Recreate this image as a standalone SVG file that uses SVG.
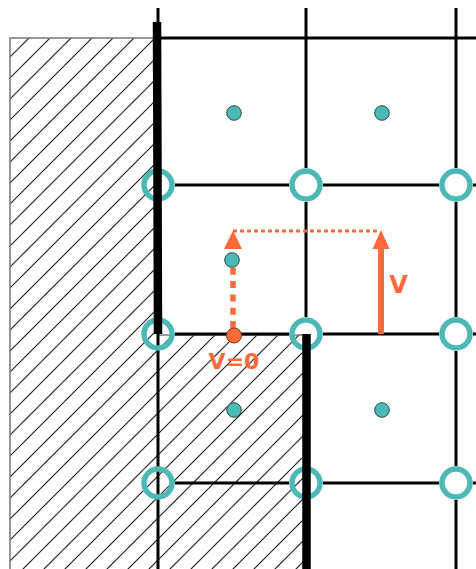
<svg xmlns="http://www.w3.org/2000/svg" width="476" height="569" viewBox="0 0 476 569">
<style>
.grid{stroke:#000;stroke-width:3;fill:none}
.wall{stroke:#000;stroke-width:8.5;fill:none}
.ring{fill:none;stroke:#4CB9B7;stroke-width:5.5}
.dot{fill:#4CB9B7;stroke:#2a4a4a;stroke-width:1}
.or{fill:#FF6A3A}
.lbl{font-family:"DejaVu Sans",Verdana,sans-serif;font-weight:bold;fill:#FF6A3A;text-anchor:middle}
</style>
<defs>
<pattern id="hatch" patternUnits="userSpaceOnUse" x="0" y="0" width="21" height="21">
<path d="M-1,5 L5,-1 M-1,26 L26,-1" stroke="#222" stroke-width="1.2" fill="none"/>
</pattern>
</defs>
<rect width="476" height="569" fill="#fff"/>
<g id="solid-region">
<path d="M10,569 V38 H158 V335 H305 V569" fill="url(#hatch)" stroke="#777" stroke-width="1.5"/>
</g>
<g id="grid">
<line class="grid" x1="158" y1="8" x2="158" y2="569"/>
<line class="grid" x1="160" y1="38" x2="476" y2="38"/>
<path class="grid" d="M306,8 V168 M306,202 V317 M306,351 V466 M306,500 V569"/>
<path class="grid" d="M456,8 V168 M456,202 V317 M456,351 V466 M456,500 V569"/>
<path class="grid" d="M175,185 H289 M323,185 H439 M473,185 H476"/>
<path class="grid" d="M175,334 H289 M323,334 H439 M473,334 H476"/>
<path class="grid" d="M175,483 H289 M323,483 H439 M473,483 H476"/>
</g>
<g id="nodes">
<circle class="ring" cx="158" cy="185" r="14"/>
<circle class="ring" cx="306" cy="185" r="14"/>
<circle class="ring" cx="456" cy="185" r="14"/>
<circle class="ring" cx="158" cy="334" r="14"/>
<circle class="ring" cx="306" cy="334" r="14"/>
<circle class="ring" cx="456" cy="334" r="14"/>
<circle class="ring" cx="158" cy="483" r="14"/>
<circle class="ring" cx="306" cy="483" r="14"/>
<circle class="ring" cx="456" cy="483" r="14"/>
</g>
<g id="walls">
<line class="wall" x1="157" y1="22" x2="158" y2="334"/>
<line class="wall" x1="306.5" y1="334" x2="306.5" y2="569"/>
</g>
<g id="connectors">
<line x1="233" y1="328" x2="233" y2="249" stroke="#FF6A3A" stroke-width="5.5" stroke-dasharray="7 6.3"/>
<polygon class="or" points="233,230.5 224,249 242,249"/>
<line x1="233" y1="231" x2="380" y2="231" stroke="#FF6A3A" stroke-width="3" stroke-dasharray="4 3"/>
<line x1="381" y1="334" x2="381" y2="247" stroke="#FF6A3A" stroke-width="6"/>
<polygon class="or" points="381,230 372.5,249 389.5,249"/>
</g>
<g id="cells">
<circle class="dot" cx="234" cy="113" r="7.3"/>
<circle class="dot" cx="382" cy="113" r="7.3"/>
<circle class="dot" cx="232" cy="260" r="7.3"/>
<circle class="dot" cx="234" cy="410" r="7.3"/>
<circle class="dot" cx="382" cy="410" r="7.3"/>
<circle cx="234" cy="335.5" r="7.5" fill="#FF6A3A" stroke="#7a3010" stroke-width="1"/>
</g>
<g id="labels">
<text class="lbl" x="398.5" y="292.5" font-size="24">V</text>
<text class="lbl" x="234" y="369" font-size="22">V=0</text>
</g>
</svg>
